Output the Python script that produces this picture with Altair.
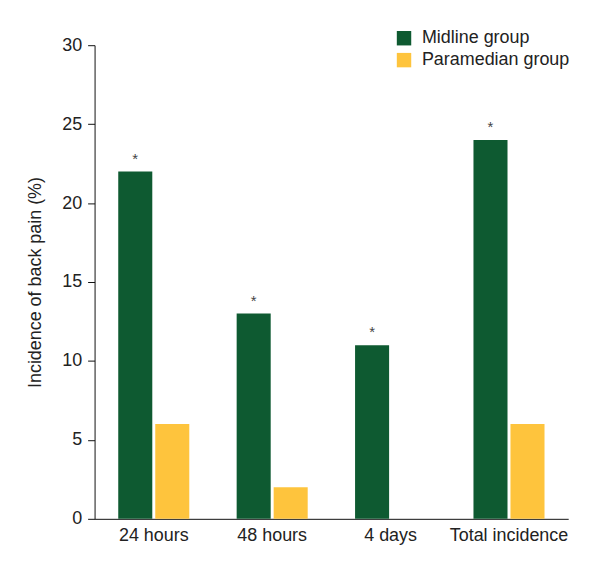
import altair as alt
import pandas as pd

categories = ["24 hours", "48 hours", "4 days", "Total incidence"]
groups = ["Midline group", "Paramedian group"]
midline = [22, 13, 11, 24]
paramedian = [6, 2, 0, 6]
stars = ["*", "*", "*", "*"]

rows = []
for c, m, p in zip(categories, midline, paramedian):
    rows.append({"cat": c, "group": groups[0], "value": m})
    rows.append({"cat": c, "group": groups[1], "value": p})
df = pd.DataFrame(rows)

star_df = pd.DataFrame({"cat": categories, "group": [groups[0]] * 4, "value": midline, "s": stars})

FONT = "Liberation Sans"
FS = 18

x = alt.X("cat:N", sort=categories, title=None,
          scale=alt.Scale(paddingInner=0.4, paddingOuter=0.2),
          axis=alt.Axis(labelAngle=0, ticks=False, labelFontSize=FS, labelColor="#222",
                        labelFont=FONT, domainColor="#111", labelPadding=8))
xo = alt.XOffset("group:N", sort=groups, scale=alt.Scale(paddingInner=0.08))

bars = alt.Chart(df).mark_bar().encode(
    x=x,
    xOffset=xo,
    y=alt.Y("value:Q", scale=alt.Scale(domain=[0, 30]),
            axis=alt.Axis(values=[0, 5, 10, 15, 20, 25, 30], grid=False, tickSize=7,
                          labelFontSize=FS, labelColor="#222", labelFont=FONT,
                          domainColor="#111", tickColor="#111", labelPadding=6,
                          title="Incidence of back pain (%)", titleFontSize=FS,
                          titleFont=FONT, titleFontWeight="normal", titleColor="#222",
                          titlePadding=17)),
    color=alt.Color("group:N", sort=groups,
                    scale=alt.Scale(domain=groups, range=["#0e5a31", "#fec43d"]),
                    legend=alt.Legend(title=None, orient="none", legendX=302, legendY=-16,
                                      symbolType="square", symbolSize=210,
                                      symbolStrokeWidth=0, labelFontSize=FS,
                                      labelFont=FONT, labelColor="#222", rowPadding=4,
                                      labelOffset=9, padding=0)),
)

text = alt.Chart(star_df).mark_text(dy=-13, fontSize=15, color="#444", font=FONT).encode(
    x=alt.X("cat:N", sort=categories),
    xOffset=alt.XOffset("group:N", sort=groups),
    y="value:Q",
    text="s:N",
)

chart = (bars + text).properties(
    width=476, height=476,
    autosize=alt.AutoSizeParams(type="none"),
    padding={"left": 87, "top": 36, "right": 40, "bottom": 40},
).configure_view(stroke=None)

chart.save("out.html", embed_options={"renderer": "svg", "actions": False})
